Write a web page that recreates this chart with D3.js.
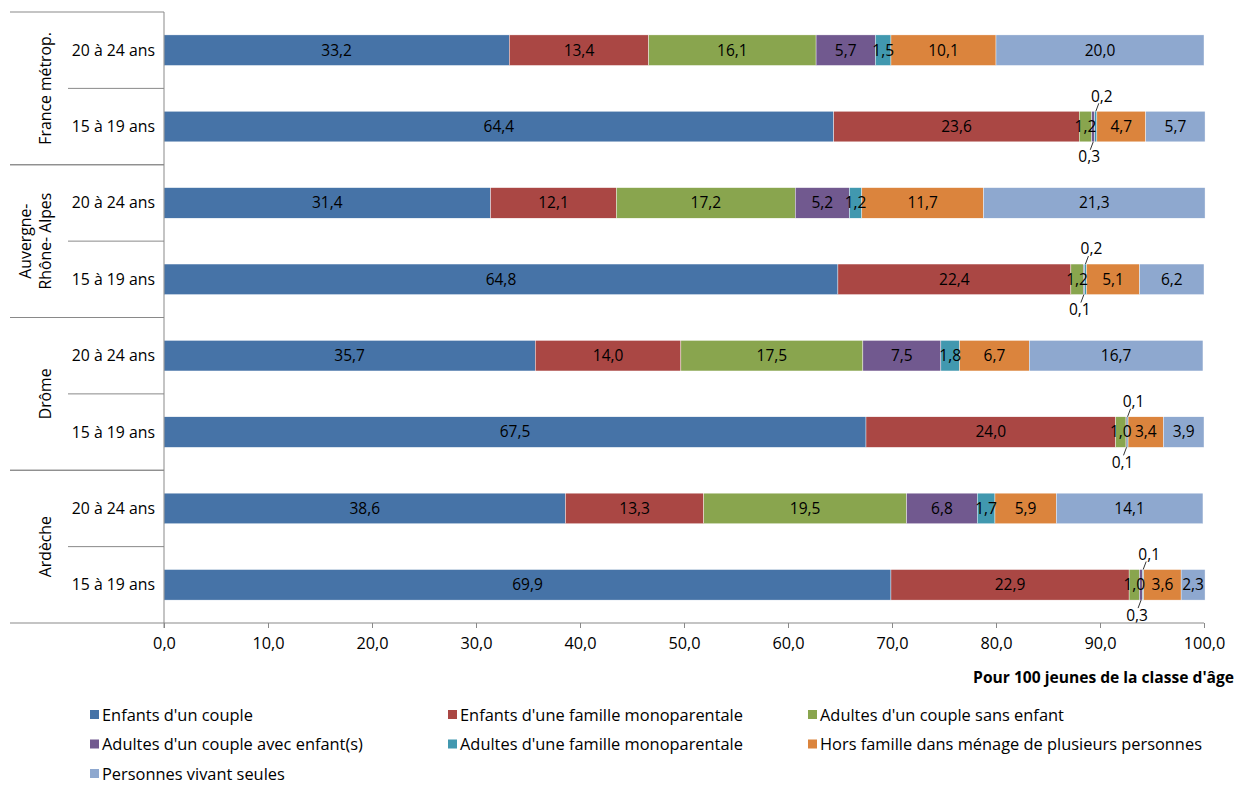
<!DOCTYPE html>
<html><head><meta charset="utf-8">
<script src="https://cdn.jsdelivr.net/npm/d3@7"></script>
<style>
body{margin:0;background:#fff;}
svg{display:block;font-family:"Open Sans",sans-serif;}
</style></head>
<body><svg id="c" width="1236" height="785"></svg>
<script>
const groups = ["France métrop.", "Auvergne-\nRhône- Alpes", "Drôme", "Ardèche"];
const ages = ["20 à 24 ans", "15 à 19 ans"];
const seriesNames = ["Enfants d'un couple","Enfants d'une famille monoparentale","Adultes d'un couple sans enfant","Adultes d'un couple avec enfant(s)","Adultes d'une famille monoparentale","Hors famille dans ménage de plusieurs personnes","Personnes vivant seules"];
const colors = ["#4673a7","#aa4744","#89a54e","#71598f","#4198af","#db843d","#8ea8cf"];
const enfantsCouple = [33.2, 64.4, 31.4, 64.8, 35.7, 67.5, 38.6, 69.9];
const enfantsMono   = [13.4, 23.6, 12.1, 22.4, 14.0, 24.0, 13.3, 22.9];
const adultesSans   = [16.1, 1.2, 17.2, 1.2, 17.5, 1.0, 19.5, 1.0];
const adultesAvec   = [5.7, 0.3, 5.2, 0.1, 7.5, 0.1, 6.8, 0.3];
const adultesMono   = [1.5, 0.2, 1.2, 0.2, 1.8, 0.1, 1.7, 0.1];
const horsFamille   = [10.1, 4.7, 11.7, 5.1, 6.7, 3.4, 5.9, 3.6];
const seules        = [20.0, 5.7, 21.3, 6.2, 16.7, 3.9, 14.1, 2.3];
const xTicks = [0,10,20,30,40,50,60,70,80,90,100];
const axisTitle = "Pour 100 jeunes de la classe d'âge";

const FS = 15.8;
const series = [enfantsCouple, enfantsMono, adultesSans, adultesAvec, adultesMono, horsFamille, seules];
const rows = [];
groups.forEach((g,gi)=>ages.forEach((a,ai)=>rows.push({id:gi*2+ai, g:gi, age:a})));
const table = rows.map(r=>{const o={id:r.id}; series.forEach((s,si)=>o["s"+si]=s[r.id]); return o;});
const keys = series.map((s,i)=>"s"+i);
const stacked = d3.stack().keys(keys)(table);

const svg = d3.select("#c");
const fmt = v => d3.format(".1f")(v).replace(".", ",");
const x = d3.scaleLinear().domain([0,100]).range([164,1204]);
const y = d3.scaleBand().domain(rows.map(r=>r.id)).range([12,623]).paddingInner(0.6).paddingOuter(0.3);
const yOuter = d3.scaleBand().domain(rows.map(r=>r.id)).range([12,623]);
const gScale = d3.scaleBand().domain(groups.map((g,i)=>i)).range([12,623]);

// bars
const layer = svg.append("g").selectAll("g").data(stacked).join("g").attr("fill",(d,i)=>colors[i]);
layer.selectAll("rect").data(d=>d).join("rect")
  .attr("x",d=>x(d[0])).attr("width",d=>x(d[1])-x(d[0]))
  .attr("y",d=>y(d.data.id)).attr("height",y.bandwidth())
  .attr("stroke","#fff").attr("stroke-width",0.4);

// labels
const lab = svg.append("g").attr("font-size",15.5).attr("fill","#000").attr("text-anchor","middle");
stacked.forEach((s,si)=>{
  s.forEach(d=>{
    const v = d[1]-d[0];
    const cx = (x(d[0])+x(d[1]))/2;
    const cy = y(d.data.id)+y.bandwidth()/2;
    if (v >= 0.9) {
      lab.append("text").attr("x",cx).attr("y",cy).attr("dy","0.35em").text(fmt(series[si][d.data.id]));
    } else {
      const val = series[si][d.data.id];
      if (si===4) { // above
        const top = y(d.data.id);
        lab.append("line").attr("x1",cx).attr("y1",top).attr("x2",cx+3).attr("y2",top-8).attr("stroke","#000").attr("stroke-width",0.8);
        lab.append("text").attr("x",cx+6).attr("y",top-15).attr("dy","0.35em").text(fmt(val));
      } else {
        const bot = y(d.data.id)+y.bandwidth();
        lab.append("line").attr("x1",cx).attr("y1",bot).attr("x2",cx-3).attr("y2",bot+8).attr("stroke","#000").attr("stroke-width",0.8);
        lab.append("text").attr("x",cx-4).attr("y",bot+15).attr("dy","0.35em").text(fmt(val));
      }
    }
  });
});

// x axis
const xa = svg.append("g").attr("transform","translate(0,623)")
  .call(d3.axisBottom(x).tickValues(xTicks).tickSize(5).tickPadding(9).tickFormat(fmt));
xa.select(".domain").attr("stroke","#898989").attr("d","M164,0H1204");
xa.selectAll(".tick line").attr("stroke","#898989");
xa.selectAll("text").attr("font-size",16.3).attr("fill","#000").attr("font-family","'Open Sans',sans-serif");
svg.append("text").attr("x",1234).attr("y",683).attr("text-anchor","end").attr("font-size",15.6).attr("font-weight","bold").text(axisTitle);

// y axis
svg.append("line").attr("x1",164).attr("x2",164).attr("y1",12).attr("y2",628).attr("stroke","#898989");
const ya = svg.append("g");
rows.forEach(r=>{
  ya.append("text").attr("x",155).attr("y",yOuter(r.id)+yOuter.bandwidth()/2).attr("dy","0.35em")
    .attr("text-anchor","end").attr("font-size",FS).text(r.age);
  if (r.id%2===0) {
    const yy = yOuter(r.id)+yOuter.bandwidth();
    ya.append("line").attr("x1",68).attr("x2",164).attr("y1",yy).attr("y2",yy).attr("stroke","#898989");
  }
});
groups.forEach((g,gi)=>{
  const top = gScale(gi), bot = top+gScale.bandwidth();
  [top,bot].forEach(yy=>ya.append("line").attr("x1",10).attr("x2",164).attr("y1",yy).attr("y2",yy).attr("stroke","#898989"));
  const lines = g.split("\n");
  const cy = top+gScale.bandwidth()/2;
  lines.forEach((ln,li)=>{
    const cx = 45 - (lines.length-1-li)*20;
    ya.append("text").attr("transform",`translate(${cx},${cy}) rotate(-90)`).attr("dy","0.35em")
      .attr("text-anchor","middle").attr("font-size",FS).text(ln);
  });
});

// legend
const leg = svg.append("g");
const colX = [90, 448, 808];
seriesNames.forEach((n,i)=>{
  const cx = colX[i%3], cy = 715 + Math.floor(i/3)*29.5;
  leg.append("rect").attr("x",cx).attr("y",cy-5).attr("width",9).attr("height",9).attr("fill",colors[i]);
  leg.append("text").attr("x",cx+12).attr("y",cy).attr("dy","0.35em").attr("font-size",16.4).text(n);
});
</script></body></html>
